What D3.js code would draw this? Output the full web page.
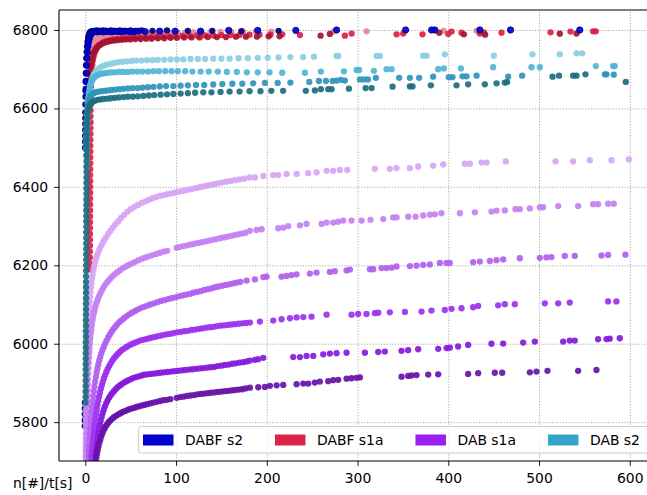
<!DOCTYPE html>
<html>
<head>
<meta charset="utf-8">
<script src="https://cdn.jsdelivr.net/npm/d3@7"></script>
<style>
  html, body { margin: 0; padding: 0; background: #fff; }
  svg { display: block; font-family: "DejaVu Sans", sans-serif; }
</style>
</head>
<body>
<svg id="chart" width="647" height="495"></svg>
<script>
// ---- tick values ----
const xTicks = [0, 100, 200, 300, 400, 500, 600];
const yTicks = [5800, 6000, 6200, 6400, 6600, 6800];

// ---- legend ----
const legendLabels = ["DABF s2", "DABF s1a", "DAB s1a", "DAB s2"];
const legendColors = ["#0000d0", "#dc2448", "#9a1ef0", "#34a5c9"];

// ---- DABF s2 runs: [t, n] ----
const dabfS2Navy = [[-0.6,5790],[-0.6,5805],[-0.6,5820],[-0.55,5835],[-0.55,5850],
  [-0.3,6500],[-0.25,6515],[-0.2,6530],[-0.15,6545],[-0.1,6560],[-0.05,6575],
  [0,6590],[0.1,6610],[0.2,6630],[0.35,6650],[0.5,6670],[0.7,6690],[0.9,6710],[1.2,6728],[1.5,6744],[1.9,6758],[2.4,6770],[3,6780],[3.7,6787],[4.6,6792],[5.6,6795],[7,6797],[8.6,6798],
  [10.5,6797],[12.5,6799],[14.5,6798],[17,6797],[19.5,6799],[22,6798],[25,6797],[28,6799],[31,6798],[34.5,6797],[38,6799],[42,6798],[46,6797],[50,6799],[55,6798],[62,6799],[74,6798],[90,6799],[113,6798],[140,6798],[172,6797],[213,6798]];
const dabfS2Blue = [[0.6,6645],[0.8,6668],[1.1,6690],[1.4,6710],[1.8,6728],[2.3,6744],[2.9,6758],[3.6,6769],[4.4,6778],[5.3,6785],[6.4,6790],[7.8,6793],[9.4,6795],[11.2,6796],[13.2,6795],[15.4,6797],[17.8,6796],[20.3,6795],[23,6797],[26,6796],[29,6795],[32.5,6797],[36,6796],[40,6795],[44,6797],[48.5,6796],[53,6795],[58,6797],[66,6796],[82,6797],[99,6797],[127,6797],[158,6799],[190,6799],[232,6799],
  [276.9,6800],[353,6800],[381.6,6800],[385.2,6800],[434.8,6800],[468.6,6800],[544.9,6800]];

// ---- DABF s1a runs ----
const dabfS1aPink = [[3.0,6690],[3.3,6703],[3.7,6716],[4.2,6728],[4.8,6739],[5.5,6748],[6.4,6756],[7.5,6763],[8.8,6769],[10.3,6773],[12,6777],[14,6780],[16.5,6782],[19.5,6784],[23,6785],[27,6786],[31,6787],[35.5,6788],[40,6789],[45,6789],[50,6790],[55,6790],[61,6791],[67,6791],[73,6792],[80,6792],[87,6792],[94,6793],[102,6793],[110,6793],[119,6794],[128,6794],[138,6795],[149,6795],[161,6795],[174,6796],[188,6796],[205,6796],
  [273.2,6796],[310,6796.6],[395.1,6798],[431.2,6798]];
const dabfS1aCrimson = [[5.0,6190],[5.0,6205],[5.05,6220],[5.05,6235],[5.1,6250],[5.1,6265],[5.15,6280],[5.15,6295],[5.2,6310],[5.2,6325],[5.25,6340],[5.25,6355],[5.3,6370],[5.3,6385],[5.35,6400],[5.35,6415],[5.4,6430],[5.4,6445],[5.45,6460],[5.45,6475],[5.5,6490],[5.5,6505],[5.55,6520],[5.6,6535],[5.65,6550],[5.7,6565],[5.75,6580],[5.8,6595],[5.9,6610],[6,6625],[6.1,6640],[6.25,6655],
  [6.4,6670],[6.7,6685],[7.1,6699],[7.6,6711],[8.3,6722],[9.1,6732],[10.1,6741],[11.3,6748],[12.7,6754],[14.3,6759],[16.2,6763],[18.4,6767],[21,6770],[24,6772],[27.5,6774],[31,6776],[35,6777],[39.5,6778],[44,6779],[49,6780],[54,6781],[60,6781],[66,6782],[72,6782],[78,6783],[85,6783],[92,6784],[99,6784],[107,6785],[115,6785],[123,6786],[132,6786],[141,6786],[150,6787],[160,6787],[170,6787],[181,6788],[192,6788],[204,6788],[217,6789],
  [236.5,6787],[286,6785.6],[293.5,6791],[343,6789],[350.3,6791],[371.6,6789],[399.9,6790],[403.6,6796],[414.6,6793],[434.8,6791],[439.2,6794],[458.7,6793],[512.7,6794],[534.7,6796],[559.6,6796.6],[562.6,6796.6]];
const dabfS1aDark = [[4.4,6610],[4.5,6625],[4.6,6640],[4.8,6655],[5.0,6670],[5.3,6684],[5.7,6697],[6.2,6709],[6.9,6720],[7.7,6730],[8.7,6738],[9.9,6745],[11.3,6751],[12.9,6756],[14.7,6760],[16.7,6763],[19,6766],[21.5,6768],[24.5,6770],[28,6772],[31.5,6773],[35.5,6774],[40,6775],[44.5,6776],[49.5,6776],[55,6777],[61,6777],[67,6778],[73,6778],[80,6779],[87,6779],[94,6780],[101,6780],[109,6781],[117,6781],[126,6781],[135,6782],[145,6782],[155,6782],[166,6783],[177,6783],[189,6783],[202,6784],[214,6784],
  [259.3,6785.6],[269.5,6790],[390,6793],[417.2,6789],[440.6,6788],[522.9,6790.6],[541.3,6791]];

// ---- DAB s1a runs ----
const dabS1a1 = [[0.2,5700],[0.27,5712],[0.34,5724],[0.41,5736],[0.48,5748],[0.55,5760],[0.62,5772],[0.69,5784],[0.76,5796],[0.83,5808],[0.9,5820],[0.97,5832],[1.04,5844],[1.12,5856],[1.2,5868],[1.28,5880],[1.37,5892],[1.46,5904],[1.56,5916],[1.66,5928],[1.77,5940],[1.89,5952],[2.02,5964],[2.16,5976],[2.31,5988],[2.47,6000],[2.64,6012],[2.83,6024],[3.03,6036],[3.25,6048],[3.5,6060],[3.77,6072],[4.07,6084],[4.4,6096],[4.77,6108],[5.18,6120],[5.64,6132],[6.15,6144],[6.72,6155],[7.35,6166],[8.05,6177],[8.85,6188],[9.75,6198],[10.75,6208],[11.85,6217],[13.05,6226],[14.35,6234],[15.8,6242],[17.4,6250],[19.1,6257],[21,6265],[23,6272],[25.2,6280],[27.6,6288],[30.2,6296],[33,6304],[36,6312],[39.2,6320],[42.6,6328],[46.2,6336],[50,6343],[54,6349],[58,6354],[62,6359],[66,6363],[70,6367],[74,6371],[78,6374],[82,6377],[86,6379],[90,6381],[94,6383],[98,6385],[102,6387],[106,6389],[110,6391],[114,6393],[118,6395],[122,6397],[126,6399],[130,6401],[134,6403],[138,6405],[142,6407],[146,6409],[150,6411],[155,6413],[160,6415],[165,6417],[170,6419],[175,6421],
  [181.2,6424],[186.9,6424],[196.1,6428],[207.1,6430],[212.6,6430],[221.8,6433],[232.9,6433],[245.6,6435],[254.9,6437],[265.9,6441],[273.2,6441],[280.6,6443],[288.6,6443],[319.1,6446],[335.6,6446],[343,6448],[357.7,6448],[366.8,6452],[383.3,6454],[394.4,6457],[418.3,6459],[423.8,6459],[436.6,6462],[442.2,6462],[463.4,6465],[518.2,6465],[537.6,6465],[556,6468],[579.9,6468],[599,6470]];
const dabS1a2 = [[0.8,5700],[0.9,5714],[1.0,5728],[1.1,5742],[1.2,5756],[1.32,5770],[1.44,5784],[1.57,5798],[1.7,5812],[1.85,5826],[2.0,5840],[2.16,5854],[2.33,5868],[2.52,5882],[2.72,5896],[2.94,5910],[3.18,5924],[3.44,5938],[3.72,5952],[4.02,5965],[4.35,5978],[4.7,5990],[5.1,6002],[5.55,6014],[6.05,6026],[6.6,6037],[7.2,6048],[7.9,6059],[8.65,6069],[9.5,6079],[10.4,6088],[11.4,6097],[12.5,6105],[13.7,6113],[15,6121],[16.4,6128],[18,6135],[19.7,6142],[21.5,6149],[23.5,6155],[25.6,6161],[27.9,6167],[30.3,6173],[32.9,6178],[35.6,6183],[38.5,6188],[41.5,6193],[44.7,6197],[48,6201],[51.5,6205],[55,6209],[58.7,6213],[62.5,6217],[66.3,6220],[70.2,6223],[74.2,6226],[78.2,6229],[82.2,6232],[86.2,6235],[90.2,6237],
  [100.7,6245],[104.5,6247],[108.5,6249],[112.5,6251],[116.5,6253],[120.5,6255],[124.5,6257],[128.5,6259],[132.5,6261],[136.5,6263],[140.5,6265],[144.5,6267],[148.5,6269],[152.5,6271],[156.5,6273],[160.5,6275],[164.5,6277],[168.5,6279],[172.5,6281],[176.5,6283],
  [181.4,6288],[188.7,6290],[194.3,6292],[212.6,6294.5],[218.1,6296],[223.6,6300],[236.5,6302],[243.8,6305.5],[260.4,6305.5],[265.9,6309],[273.2,6309],[278.7,6311],[284.2,6314],[293.4,6314],[304.4,6314],[314.3,6316],[328.3,6318],[339.3,6322],[343,6322],[355.8,6324],[363.9,6324],[372.3,6327],[379.7,6329],[385.2,6330],[392.5,6333],[412.8,6333],[429.3,6335],[447.6,6337],[453.1,6339.5],[462.3,6340],[474.1,6343],[478.8,6343],[489.9,6345],[500.9,6348],[504.5,6348],[521.1,6351],[543.1,6351],[559.6,6356],[565.1,6356],[576.1,6357],[582.4,6357]];
const dabS1a3 = [[3.5,5700],[3.8,5714],[4.1,5728],[4.45,5742],[4.8,5756],[5.2,5770],[5.6,5784],[6.05,5798],[6.5,5812],[7,5826],[7.55,5840],[8.1,5853],[8.7,5866],[9.35,5879],[10.05,5891],[10.8,5903],[11.6,5915],[12.45,5926],[13.35,5937],[14.3,5947],[15.3,5957],[16.4,5966],[17.6,5975],[18.9,5984],[20.3,5992],[21.8,6000],[23.4,6008],[25.1,6016],[26.9,6023],[28.8,6030],[30.8,6037],[32.9,6043],[35.1,6049],[37.5,6055],[40,6060],[42.6,6065],[45.4,6070],[48.3,6075],[51.3,6079],[54.4,6083],[57.6,6087],[61,6091],[64.5,6094],[68.1,6097],[71.8,6100],[75.6,6103],[79.4,6106],[83.3,6109],[87.2,6111],[91.1,6114],[95,6116],[99,6118],[103,6121],[107,6123],[111,6125],[115,6127],[119,6130],[123,6132],[127,6134],[131,6137],[135,6139],[139,6141],[143,6144],[147,6146],[151,6148],[155,6150],[159,6152],[163,6154],[167,6156],[171,6158],
  [177.8,6161],[186.9,6164],[196.1,6170],[199.8,6171],[216.3,6171],[221.8,6173],[227.3,6175],[232.8,6177],[247.5,6179],[254.8,6181.5],[269.5,6183],[275,6185],[287.9,6187],[291.6,6189],[313.6,6190],[317.3,6190],[326.4,6193],[331.9,6193],[337.5,6194],[343,6197],[357.7,6198],[365,6199],[372.3,6201],[379.7,6202],[390.7,6206],[398.1,6206],[401.7,6206],[427.4,6208],[434.8,6209.5],[445.8,6211],[453.1,6213],[460.5,6215],[478.8,6218],[500.9,6219],[508.2,6220],[513.7,6221],[528.4,6224],[539.4,6224],[568.8,6225],[576.1,6226.5],[595.2,6227]];
const dabS1a4 = [[6.5,5700],[6.9,5712],[7.35,5724],[7.8,5736],[8.3,5748],[8.8,5760],[9.35,5772],[9.9,5784],[10.5,5796],[11.15,5808],[11.85,5820],[12.6,5832],[13.4,5843],[14.25,5854],[15.15,5865],[16.1,5875],[17.1,5885],[18.15,5894],[19.3,5903],[20.5,5912],[21.8,5920],[23.2,5928],[24.7,5936],[26.3,5943],[28,5950],[29.8,5957],[31.7,5963],[33.7,5969],[35.8,5974],[38,5979],[40.4,5984],[42.9,5988],[45.5,5992],[48.2,5996],[51,5999],[54,6002],[57.1,6005],[60.3,6008],[63.6,6010],[67,6012],[70.5,6014],[74.1,6016],[77.8,6018],[81.5,6020],[85.3,6022],[89.1,6024],[93,6025],[97,6027],[101,6029],[105,6030],[109,6032],[113,6033],[117,6035],[121,6036],[125,6038],[129,6039],[133,6041],[137,6042],[141,6043],[145,6045],[149,6046],[153,6047],[157,6048],[161,6049],[165,6050],[169,6051],[173,6052],[177,6053],
  [181.4,6054],[192.4,6056.5],[207.1,6059],[216.3,6062.5],[225.5,6065],[232.8,6067],[240.2,6068],[249.3,6069],[265.9,6074],[293.4,6074],[300.7,6076],[309.9,6076],[319.1,6078],[322.8,6079],[335.6,6080],[352.2,6081],[370.5,6082],[381.5,6084.5],[396.2,6086],[403.6,6089],[414.6,6090.5],[427.4,6093],[432.9,6096.5],[455,6098],[462.3,6101],[473.3,6101],[506.4,6103],[521.1,6103],[533.9,6105],[576.1,6108],[585.3,6108]];
const dabS1a5 = [[10.5,5700],[11.1,5712],[11.7,5724],[12.35,5736],[13,5748],[13.7,5760],[14.45,5772],[15.25,5783],[16.1,5794],[17,5804],[18,5814],[19.1,5823],[20.3,5832],[21.6,5840],[23,5848],[24.5,5855],[26.1,5862],[27.8,5868],[29.6,5874],[31.5,5879],[33.5,5884],[35.6,5889],[37.8,5893],[40.1,5897],[42.5,5901],[45,5904],[47.6,5907],[50.3,5910],[53.1,5913],[56,5915],[59,5917],[62.1,5919],[65.3,5921],[68.6,5922],[72,5923],[75.5,5924],[79.1,5925],[82.8,5926],[86.6,5927],[90.4,5928],[94.2,5929],[98,5930],[102,5931],[106,5932],[110,5933],[114,5934],[118,5935],[122,5936],[126,5937],[130,5938],[134,5939],[138,5940],[142,5941],[146,5943],[150,5944],[154,5946],[158,5947],[162,5949],[166,5950],[170,5952],[174,5953],[178,5955],
  [181.4,5957],[186.9,5959],[190.6,5960.6],[196.1,5964],[229.1,5966],[236.5,5966],[243.8,5969],[251.2,5969],[262.2,5973],[269.5,5975],[276.9,5976],[287.9,5977],[308.1,5977],[322.8,5979],[330.1,5980],[348.5,5982],[355.8,5983.5],[366.8,5986],[388.9,5987],[398.1,5989],[401.7,5990],[410.9,5993],[421.9,5997],[447.6,6000],[460.5,6000.5],[482.5,6003],[495.4,6005.6],[526.6,6005.6],[533.9,6008],[539.4,6008],[565.1,6011.5],[574.3,6012],[578,6013],[589,6014]];
const dabS1a6 = [[11.5,5700],[12.2,5710],[12.95,5720],[13.75,5730],[14.6,5739],[15.5,5748],[16.5,5756],[17.55,5764],[18.7,5771],[19.9,5778],[21.2,5784],[22.6,5790],[24.1,5795],[25.7,5800],[27.4,5804],[29.2,5808],[31.1,5812],[33.1,5815],[35.2,5818],[37.4,5821],[39.7,5824],[42.1,5827],[44.6,5829],[47.2,5832],[49.9,5834],[52.7,5836],[55.6,5838],[58.6,5840],[61.7,5842],[64.9,5844],[68.2,5846],[71.6,5848],[75.1,5850],[78.7,5852],[82.4,5854],[86.2,5856],[90,5857],[93.8,5859],
  [100.7,5862],[104.5,5864],[108.3,5865],[112.1,5867],[115.9,5868],[119.7,5869],[123.5,5871],[127.3,5872],[131.1,5873],[134.9,5874],[138.7,5875],[142.5,5876],[146.3,5877],[150.1,5878],[153.9,5879],[157.7,5880],[161.5,5881],[165.3,5882],[169.1,5883],[172.9,5884],[176.7,5886],
  [181.4,5888],[190.6,5889],[197.9,5890],[203.4,5892.6],[210.8,5894],[218.1,5895],[232.8,5897],[240.2,5898.5],[245.7,5898.5],[253,5901],[258.5,5903.6],[267.7,5904.5],[273.2,5907],[278.7,5908],[287.9,5911],[293.4,5912],[298.9,5913],[302.6,5914],[348.5,5916],[355.8,5918],[359.5,5919],[365,5920],[377.9,5921.5],[388.9,5922],[421.9,5923],[432.9,5925],[451.3,5926],[459.4,5926],[489.9,5927],[497.2,5929],[509.3,5931],[543.1,5931],[563.3,5933]];

// ---- DAB s2 runs ----
const dabS2Light = [[1.4,6450],[1.5,6465],[1.6,6480],[1.7,6495],[1.8,6510],[1.9,6525],[2.0,6540],[2.2,6555],[2.4,6570],[2.7,6585],[3.0,6600],[3.4,6614],[3.9,6628],[4.5,6641],[5.2,6653],[6,6663],[7,6672],[8.2,6680],[9.6,6687],[11.2,6693],[13,6698],[15,6702],[17.5,6706],[20.5,6709],[24,6712],[28,6714],[32,6716],[36.5,6718],[41,6719],[46,6720],[51,6721],[56,6722],[62,6722],[68,6723],[74,6723],[80,6724],[87,6724],[94,6725],[101,6725],[108,6725],[116,6726],[124,6726],[132,6726],[141,6727],[150,6727],[159,6727],[169,6728],[179,6728],[190,6729],[201,6729],[213,6730],[226,6731],[240,6731],[252,6732],
  [276.9,6733.7],[278.7,6734],[321,6734],[324.7,6734],[372.3,6734.6],[376,6734.6],[396.2,6738],[450.2,6734.6],[492.8,6738],[522.9,6738],[541.3,6740.5],[547.5,6740.5]];
const dabS2Mid = [[1.0,6480],[1.1,6495],[1.2,6510],[1.3,6525],[1.45,6540],[1.6,6555],[1.8,6570],[2.0,6585],[2.3,6600],[2.7,6614],[3.2,6627],[3.8,6639],[4.6,6650],[5.5,6659],[6.6,6667],[7.9,6673],[9.4,6678],[11.2,6682],[13.3,6685],[15.7,6687],[18.5,6689],[21.5,6690],[25,6691],[29,6692],[33,6692],[37.5,6693],[42,6693],[47,6693],[52,6694],[57.5,6694],[63,6694],[69,6694],[75,6695],[81,6695],[88,6695],[95,6695],[102,6695],[110,6695],[118,6694],[127,6694],[136,6694],[146,6694],[156,6693],[167,6693],[178,6692],[190,6692],[203,6692],[217,6691],
  [242,6691],[259.6,6694],[285,6694.7],[299,6698],[301.8,6698],[318,6696],[332,6700],[337.5,6700],[388.9,6700],[395.1,6702],[413.9,6702],[449.4,6705],[491.7,6705],[500.9,6705],[562.6,6708],[581.6,6708],[583.5,6708]];
const dabS2Deep = [[1.0,6500],[1.1,6515],[1.25,6530],[1.4,6545],[1.6,6560],[1.85,6575],[2.15,6589],[2.5,6602],[3,6612],[3.7,6620],[4.6,6626],[5.7,6631],[7,6635],[8.5,6638],[10.3,6640],[12.5,6642],[15,6643],[18,6644],[21.5,6645],[25,6646],[29,6647],[33,6648],[37.5,6649],[42,6650],[47,6651],[52,6652],[57.5,6652],[63,6653],[69,6654],[75,6655],[82,6656],[89,6657],[97,6657],[105,6658],[113,6659],[122,6660],[131,6660],[141,6661],[151,6662],[162,6663],[173,6663],[185,6664],[198,6665],[212,6665],[226,6666],
  [246.8,6667.5],[257.4,6670],[265.1,6670],[272.5,6670],[277,6671],[281.6,6673],[286,6671],[302.6,6674],[307,6674],[311.4,6674],[320.2,6678],[345.9,6678],[357.7,6678],[367.9,6678],[383.3,6681],[400.6,6679.5],[404.7,6680],[415.7,6682],[420.1,6682],[431.2,6683.6],[466,6681],[481.4,6683.6],[572.5,6687],[574.4,6687],[582.4,6686]];
const dabS2Dark = [[0.3,5850],[0.3,5864],[0.35,5878],[0.35,5892],[0.4,5906],[0.4,5920],[0.45,5934],[0.45,5948],[0.5,5962],[0.5,5976],[0.55,5990],[0.55,6004],[0.6,6018],[0.6,6032],[0.65,6046],[0.65,6060],[0.7,6074],[0.7,6088],[0.75,6102],[0.75,6116],[0.8,6130],[0.8,6144],[0.85,6158],[0.85,6172],[0.9,6186],[0.9,6200],[0.95,6214],[0.95,6228],[1.0,6242],[1.0,6256],[1.05,6270],[1.05,6284],[1.1,6298],[1.1,6312],[1.15,6326],[1.15,6340],[1.2,6354],[1.2,6368],[1.25,6382],[1.25,6396],[1.3,6410],[1.3,6424],[1.35,6438],[1.4,6452],[1.45,6466],[1.5,6480],[1.55,6494],[1.6,6508],[1.7,6522],[1.8,6536],[1.9,6550],[2.0,6563],
  [2.2,6575],[2.7,6587],[3.4,6597],[4.3,6605],[5.5,6611],[7,6615],[8.8,6618],[11,6620],[13.5,6622],[16.5,6623],[20,6624],[24,6625],[28,6626],[32.5,6627],[37,6628],[42,6629],[47,6630],[52.5,6630],[58,6631],[64,6632],[70,6633],[76,6634],[83,6635],[90,6636],[97,6637],[105,6638],[113,6639],[121,6640],[130,6641],[139,6641],[149,6642],[159,6643],[170,6643],[181,6644],[193,6644],[205,6645],[218,6645],
  [243,6645],[253,6646],[259.6,6649],[267.7,6649],[271.4,6649],[290.5,6650.5],[308.9,6652],[315.5,6652],[338.6,6655.5],[357.7,6656],[360.6,6656],[380.8,6659],[409.1,6659],[421.9,6661.5],[440.3,6661.5],[453.2,6664],[462.3,6666],[464.9,6667],[514.9,6681],[522.1,6683.6],[537.6,6683.6],[541.3,6683.6],[551.2,6687],[595.6,6667.5]];

// drawing order: DABF s1a, DABF s2, DAB s1a, DAB s2
const series = [
  { pts: dabfS1aPink,    fill: "#e8849c" },
  { pts: dabfS1aCrimson, fill: "#dc1f45" },
  { pts: dabfS1aDark,    fill: "#a3132f" },
  { pts: dabfS2Navy,     fill: "#00007f" },
  { pts: dabfS2Blue,     fill: "#0000dc", stroke: "#00007a" },
  { pts: dabS1a1,        fill: "#d6a5f4" },
  { pts: dabS1a2,        fill: "#c480f2" },
  { pts: dabS1a3,        fill: "#b05ef0" },
  { pts: dabS1a4,        fill: "#9b30ee" },
  { pts: dabS1a5,        fill: "#8419dc" },
  { pts: dabS1a6,        fill: "#6812a8" },
  { pts: dabS2Light,     fill: "#8ccde2" },
  { pts: dabS2Mid,       fill: "#4fb4d6" },
  { pts: dabS2Deep,      fill: "#2e95ba" },
  { pts: dabS2Dark,      fill: "#1d6c81" }
];

// ---- layout ----
const plotL = 59, plotR = 647, plotT = 10, plotB = 461;
const FONT = 13.9;

const xScale = d3.scaleLinear().domain([-29, 619]).range([plotL, plotR]);
const yScale = d3.scaleLinear().domain([5701, 6851]).range([plotB, plotT]);

const svg = d3.select("#chart");

svg.append("defs").append("clipPath").attr("id", "plotClip")
  .append("rect").attr("x", plotL).attr("y", plotT)
  .attr("width", plotR - plotL).attr("height", plotB - plotT);

// dotted grid
const gridStyle = g => g.selectAll("line")
  .attr("stroke", "#8f8f8f").attr("stroke-width", 0.8).attr("stroke-dasharray", "1.1,1.7");
svg.append("g")
  .attr("transform", `translate(0,${plotB})`)
  .call(d3.axisBottom(xScale).tickValues(xTicks).tickSize(-(plotB - plotT)).tickFormat(""))
  .call(g => g.select(".domain").remove())
  .call(gridStyle);
svg.append("g")
  .attr("transform", `translate(${plotL},0)`)
  .call(d3.axisLeft(yScale).tickValues(yTicks).tickSize(-(plotR - plotL)).tickFormat(""))
  .call(g => g.select(".domain").remove())
  .call(gridStyle);

// scatter points
const pointsG = svg.append("g").attr("clip-path", "url(#plotClip)");
series.forEach(s => {
  pointsG.append("g")
    .selectAll("circle")
    .data(s.pts)
    .join("circle")
    .attr("cx", d => xScale(d[0]))
    .attr("cy", d => yScale(d[1]))
    .attr("r", 3.15)
    .attr("fill", s.fill)
    .attr("fill-opacity", 0.92)
    .attr("stroke", s.stroke || "none")
    .attr("stroke-width", s.stroke ? 0.8 : 0);
});

// axes with ticks and labels
const axisStyle = g => {
  g.attr("font-family", "DejaVu Sans, sans-serif").attr("font-size", FONT);
  g.select(".domain").remove();
  g.selectAll(".tick line").attr("stroke", "#000").attr("stroke-width", 0.9);
  g.selectAll(".tick text").attr("fill", "#000");
};
svg.append("g")
  .attr("transform", `translate(0,${plotB})`)
  .call(d3.axisBottom(xScale).tickValues(xTicks).tickFormat(d3.format("d"))
    .tickSize(4.9).tickPadding(7).tickSizeOuter(0))
  .call(axisStyle);
svg.append("g")
  .attr("transform", `translate(${plotL},0)`)
  .call(d3.axisLeft(yScale).tickValues(yTicks).tickFormat(d3.format("d"))
    .tickSize(4.9).tickPadding(6).tickSizeOuter(0))
  .call(axisStyle);

// spines
const spines = svg.append("g").attr("stroke", "#000").attr("stroke-width", 1.1);
spines.append("line").attr("x1", plotL).attr("x2", plotL).attr("y1", plotT).attr("y2", plotB);
spines.append("line").attr("x1", plotL).attr("x2", plotR).attr("y1", plotB).attr("y2", plotB);
spines.append("line").attr("x1", plotL).attr("x2", plotR).attr("y1", plotT).attr("y2", plotT);

// axis caption
svg.append("text")
  .attr("x", 13).attr("y", 488)
  .attr("font-size", FONT).attr("fill", "#000")
  .text("n[#]/t[s]");

// legend
const legendG = svg.append("g").attr("font-size", FONT);
legendG.append("rect")
  .attr("x", 138.5).attr("y", 426.5).attr("width", 520).attr("height", 26.5).attr("rx", 3)
  .attr("fill", "#fff").attr("fill-opacity", 0.8).attr("stroke", "#cccccc").attr("stroke-width", 1);
let lx = 143;
legendLabels.forEach((label, i) => {
  legendG.append("rect")
    .attr("x", lx).attr("y", 434.5).attr("width", 30.5).attr("height", 11)
    .attr("fill", legendColors[i]);
  const t = legendG.append("text")
    .attr("x", lx + 42).attr("y", 445.2).attr("fill", "#000")
    .text(label);
  lx += 42 + t.node().getComputedTextLength() + 32;
});
</script>
</body>
</html>
